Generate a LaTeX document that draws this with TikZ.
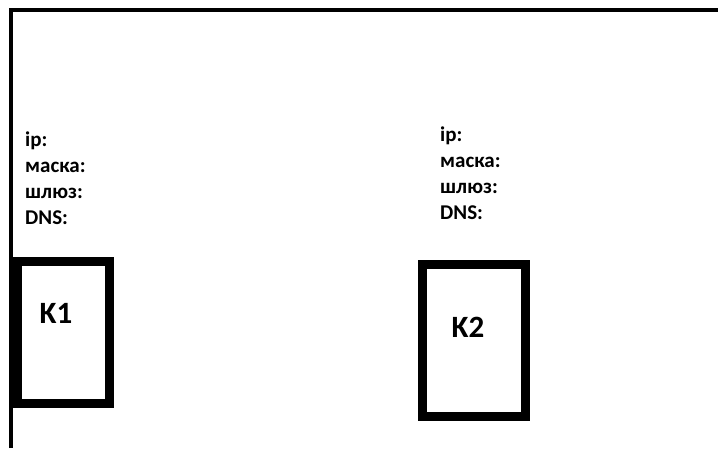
\documentclass[tikz,border=0pt]{standalone}
\usepackage{fontspec}
\setmainfont{Carlito}
\begin{document}
\begin{tikzpicture}[x=1pt,y=-1pt,
  frameline/.style={line width=4pt},
  pcbox/.style={draw, line width=9pt, minimum width=#1, inner sep=0pt, outer sep=0pt},
  info/.style={anchor=base west, inner sep=0pt, font=\fontsize{21}{25}\selectfont\bfseries},
  pclabel/.style={inner sep=0pt, font=\fontsize{31}{36}\selectfont\bfseries}]
\useasboundingbox (0,0) rectangle (718,448);
\fill[white] (0,0) rectangle (718,448);
% frame
\coordinate (fbl) at (11,448);
\coordinate (ftl) at (11,10);
\coordinate (ftr) at (718,10);
\draw[frameline] (fbl) -- (ftl) -- (ftr);
% left info
\node[info] (ip1) at (25,146) {ip:};
\node[info] (mask1) at (25,172) {маска:};
\node[info] (gw1) at (25,198) {шлюз:};
\node[info] (dns1) at (25,224) {DNS:};
% right info
\node[info] (ip2) at (440,141) {ip:};
\node[info] (mask2) at (440,167) {маска:};
\node[info] (gw2) at (440,193) {шлюз:};
\node[info] (dns2) at (440,219) {DNS:};
% K1
\node[pcbox=92pt, minimum height=142pt] (k1box) at (63.5,332.5) {};
\node[pclabel] (k1) at (56,313) {K1};
% K2
\node[pcbox=103.5pt, minimum height=152pt] (k2box) at (473.75,340.5) {};
\node[pclabel] (k2) at (468,327) {K2};
\end{tikzpicture}
\end{document}
